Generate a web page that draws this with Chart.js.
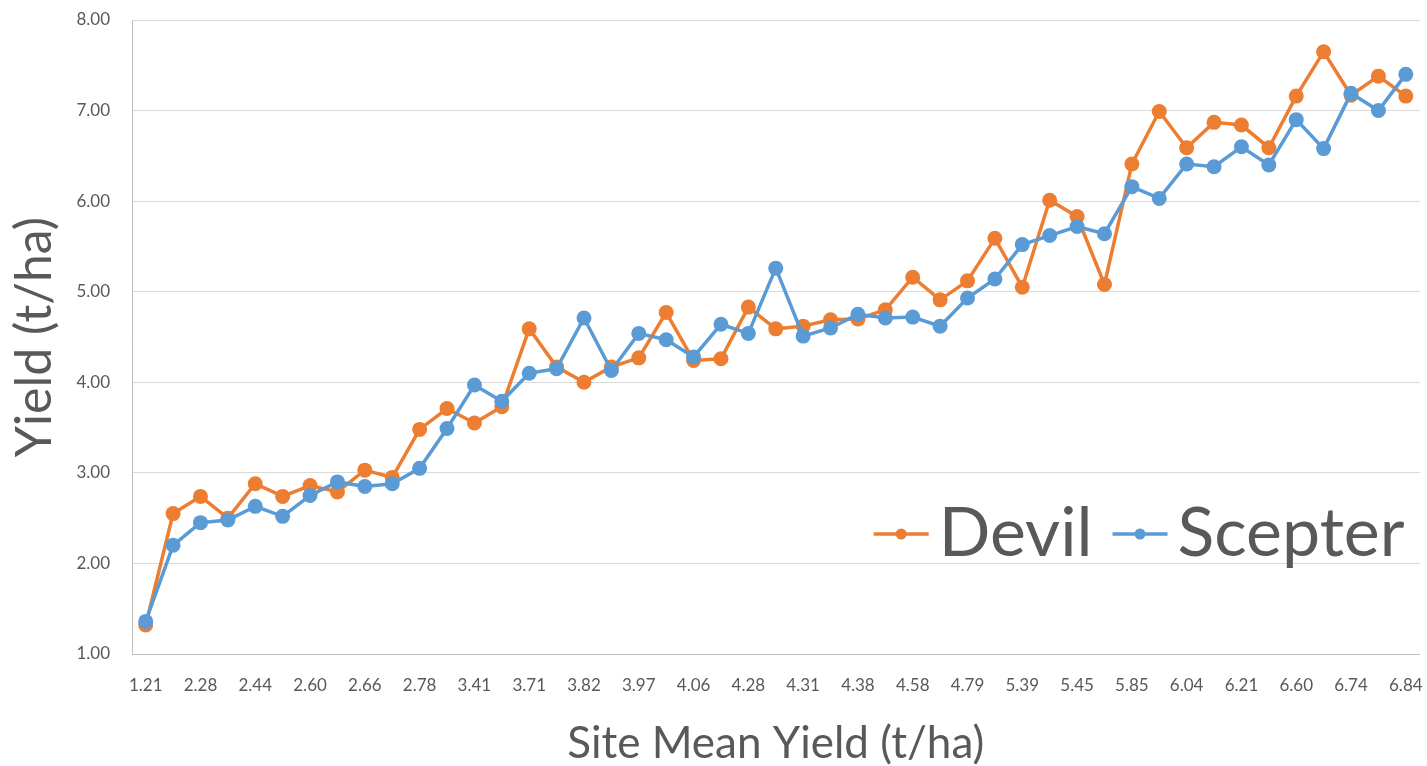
<!DOCTYPE html>
<html>
<head>
<meta charset="utf-8">
<script src="https://cdn.jsdelivr.net/npm/chart.js@4"></script>
<style>
  html, body { margin: 0; padding: 0; background: #fff; }
  #wrap { width: 1427px; height: 766px; }
</style>
</head>
<body>
<div id="wrap"><canvas id="myChart"></canvas></div>
<script>
// site mean yield labels (Excel only prints every other category)
const siteMeanLabels = ['1.21', '2.28', '2.44', '2.60', '2.66', '2.78', '3.41', '3.71', '3.82', '3.97', '4.06', '4.28',
                        '4.31', '4.38', '4.58', '4.79', '5.39', '5.45', '5.85', '6.04', '6.21', '6.60', '6.74', '6.84'];

const devil = [1.32, 2.55, 2.74, 2.50, 2.88, 2.74, 2.86, 2.79, 3.03, 2.95, 3.48, 3.71, 3.55, 3.73, 4.59, 4.17,
               4.00, 4.17, 4.27, 4.77, 4.24, 4.26, 4.83, 4.59, 4.62, 4.69, 4.70, 4.80, 5.16, 4.91, 5.12, 5.59,
               5.05, 6.01, 5.83, 5.08, 6.41, 6.99, 6.59, 6.87, 6.84, 6.59, 7.16, 7.65, 7.17, 7.38, 7.16];

const scepter = [1.36, 2.20, 2.45, 2.48, 2.63, 2.52, 2.75, 2.90, 2.85, 2.88, 3.05, 3.49, 3.97, 3.79, 4.10, 4.15,
                 4.71, 4.13, 4.54, 4.47, 4.28, 4.64, 4.54, 5.26, 4.51, 4.60, 4.75, 4.71, 4.72, 4.62, 4.93, 5.14,
                 5.52, 5.62, 5.72, 5.64, 6.16, 6.03, 6.41, 6.38, 6.60, 6.40, 6.90, 6.58, 7.19, 7.00, 7.40];

const yTicks = [1, 2, 3, 4, 5, 6, 7, 8];

// 47 categories, the unprinted ones stay blank
const categories = [];
siteMeanLabels.forEach((l, i) => {
    categories.push(l);
    if (i < siteMeanLabels.length - 1) categories.push('');
});

const ORANGE = '#ED7D31';
const BLUE = '#5B9BD5';
const TEXT = '#595959';
const FONT = 'Lato, "Open Sans", sans-serif';

// legend inside the plot, bottom right, like Excel
const insideLegend = {
    id: 'insideLegend',
    afterDraw(chart) {
        const ctx = chart.ctx;
        const area = chart.chartArea;
        const items = [
            { text: 'Devil', color: ORANGE },
            { text: 'Scepter', color: BLUE }
        ];
        ctx.save();
        ctx.font = '68px ' + FONT;
        ctx.textBaseline = 'alphabetic';
        const lineLen = 55, gapText = 10, gapItem = 20;
        let total = 0;
        items.forEach((it, i) => {
            total += lineLen + gapText + ctx.measureText(it.text).width + (i ? gapItem : 0);
        });
        let x = area.right - 15 - total;
        const y = area.bottom - 120;
        items.forEach((it, i) => {
            if (i) x += gapItem;
            ctx.strokeStyle = it.color;
            ctx.lineWidth = 3.5;
            ctx.beginPath();
            ctx.moveTo(x, y);
            ctx.lineTo(x + lineLen, y);
            ctx.stroke();
            ctx.fillStyle = it.color;
            ctx.beginPath();
            ctx.arc(x + lineLen / 2, y, 5.5, 0, Math.PI * 2);
            ctx.fill();
            x += lineLen + gapText;
            ctx.fillStyle = TEXT;
            ctx.fillText(it.text, x, y + 22);
            x += ctx.measureText(it.text).width;
        });
        ctx.restore();
    }
};

new Chart(document.getElementById('myChart'), {
    type: 'line',
    data: {
        labels: categories,
        datasets: [
            {
                label: 'Devil', data: devil, order: 1,
                borderColor: ORANGE, backgroundColor: ORANGE,
                borderWidth: 3.5, pointRadius: 7.5, pointBorderWidth: 0, tension: 0
            },
            {
                label: 'Scepter', data: scepter, order: 0,
                borderColor: BLUE, backgroundColor: BLUE,
                borderWidth: 3.5, pointRadius: 7.5, pointBorderWidth: 0, tension: 0
            }
        ]
    },
    options: {
        responsive: true,
        maintainAspectRatio: false,
        animation: false,
        layout: { padding: { top: 0, right: 7, left: 0, bottom: 0 } },
        plugins: { legend: { display: false }, tooltip: { enabled: false } },
        scales: {
            x: {
                offset: true,
                grid: { display: false, drawTicks: false },
                border: { display: true, color: '#bfbfbf', width: 1 },
                ticks: {
                    autoSkip: false, maxRotation: 0, padding: 21,
                    color: TEXT, font: { family: FONT, size: 17 }
                },
                title: {
                    display: true, text: 'Site Mean Yield (t/ha)', color: TEXT,
                    font: { family: FONT, size: 44, lineHeight: 1 }, padding: { top: 0, bottom: 0 }
                },
                afterFit(scale) {
                    scale.height = 112;
                    scale.paddingLeft = 0;
                    scale.paddingRight = 0;
                }
            },
            y: {
                min: 1, max: 8,
                afterBuildTicks(scale) { scale.ticks = yTicks.map(v => ({ value: v })); },
                grid: { color: '#d9d9d9', lineWidth: 1, drawTicks: false },
                border: { display: true, color: '#bfbfbf', width: 1 },
                ticks: {
                    padding: 22, color: TEXT, font: { family: FONT, size: 17 },
                    callback: v => Number(v).toFixed(2)
                },
                title: {
                    display: true, text: 'Yield (t/ha)', color: TEXT,
                    font: { family: FONT, size: 50 }, padding: { top: 5, bottom: 5 }
                },
                afterFit(scale) {
                    scale.width = 132;
                    // tick padding otherwise pushes the plot top down
                    scale.paddingTop = 20;
                    scale.paddingBottom = 10;
                }
            }
        }
    },
    plugins: [insideLegend]
});
</script>
</body>
</html>
